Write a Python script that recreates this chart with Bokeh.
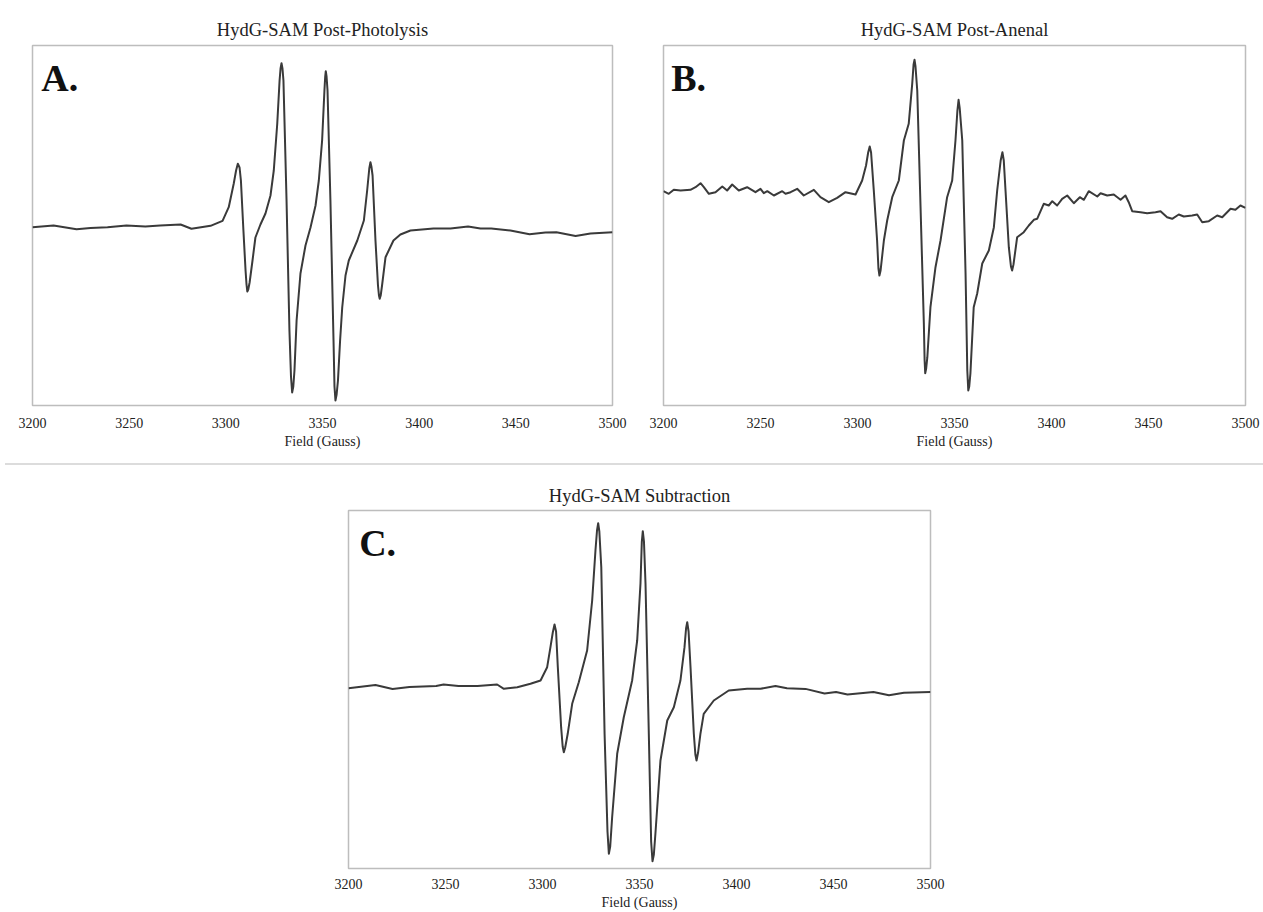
from bokeh.plotting import figure
from bokeh.models import Range1d, FixedTicker, Label, Div, Spacer
from bokeh.layouts import column, row
from bokeh.embed import file_html
from bokeh.resources import INLINE

tick_values = [3200, 3250, 3300, 3350, 3400, 3450, 3500]
titles = ["HydG-SAM Post-Photolysis", "HydG-SAM Post-Anenal", "HydG-SAM Subtraction"]
panel_letters = ["A.", "B.", "C."]
x_label = "Field (Gauss)"

field_a = [3200.0, 3210.9, 3222.8, 3230.0, 3238.8, 3248.6, 3258.4, 3266.0, 3276.6, 3282.2, 3292.1, 3298.3,
           3301.5, 3304.1, 3305.3, 3306.2, 3307.1, 3307.8, 3309.1, 3310.2, 3310.7, 3311.1, 3311.6, 3312.3, 3313.8, 3315.3,
           3317.9, 3320.5, 3323.1, 3324.8, 3326.6, 3327.8, 3328.3, 3328.8, 3329.3, 3329.8, 3331.4, 3332.9, 3333.7, 3334.3, 3334.9, 3335.5, 3336.6, 3338.6,
           3341.2, 3343.8, 3346.4, 3348.1, 3349.8, 3351.0, 3351.4, 3351.7, 3352.1, 3352.6, 3354.1, 3355.7, 3356.2, 3356.7, 3357.3, 3358.0, 3359.1, 3360.2, 3361.9, 3363.6,
           3368.0, 3371.4, 3373.1, 3374.2, 3374.8, 3375.3, 3375.9, 3377.4, 3378.7, 3379.2, 3379.6, 3380.1, 3380.8, 3382.6,
           3386.7, 3390.3, 3395.5, 3407.4, 3416.2, 3425.3, 3431.7, 3437.3, 3447.2, 3457.1, 3465.3, 3471.0, 3480.9, 3488.6, 3500.0]
signal_a = [-0.8, 1.1, -2.7, -1.5, -0.8, 1.1, 0, 1.0, 2.0, -2.3, 0.7, 5.7,
            19.3, 43, 56, 62.7, 59, 46, -4, -44, -58, -65, -63, -56, -34, -11,
            2, 13, 31, 56, 103, 146, 158, 163.3, 158, 146, 26, -104, -150, -166, -160, -144, -94, -47,
            -19, -1, 21, 46, 86, 136, 150, 155.3, 150, 136, 26, -114, -160, -174, -168, -154, -114, -81, -49, -34,
            -14, 6, 36, 58, 64.3, 60, 51, -14, -59, -69, -72.3, -69, -59, -30.7,
            -14, -8, -4, -2, -2, 0, -2, -2, -4, -7.7, -6, -5.8, -9.6, -7, -5.8]

field_b = [3200.0, 3202.7, 3205.3, 3208.8, 3213.9, 3216.5, 3219.1, 3220.8, 3223.4, 3226.8,
           3230.3, 3232.8, 3235.4, 3238.8, 3243.1, 3247.4, 3250.0, 3251.7, 3253.5, 3256.9,
           3261.2, 3262.9, 3265.5, 3268.9, 3272.3, 3277.5, 3280.9, 3285.2, 3289.5, 3293.8, 3299.0,
           3302.4, 3304.4, 3305.5, 3306.3, 3307.0, 3308.4, 3310.1, 3310.8, 3311.3, 3311.9, 3313.6, 3315.3, 3317.9,
           3321.3, 3323.9, 3326.4, 3328.2, 3328.9, 3329.4, 3329.9, 3330.8, 3332.5, 3334.2, 3334.6, 3334.9, 3335.4, 3336.0, 3337.6, 3340.2, 3342.8, 3346.2, 3348.8,
           3350.5, 3351.5, 3352.1, 3352.7, 3354.0, 3355.7, 3356.6, 3357.1, 3357.6, 3358.2, 3359.9, 3361.7, 3364.3, 3367.7, 3370.3,
           3372.0, 3373.8, 3374.7, 3375.4, 3376.3, 3378.0, 3379.1, 3379.7, 3380.4, 3382.3,
           3385.7, 3388.3, 3390.9, 3392.6, 3396.0, 3398.6, 3400.4, 3402.9, 3405.5, 3408.1,
           3411.5, 3414.6, 3416.7, 3419.2, 3423.6, 3425.3, 3428.7, 3432.1, 3435.6, 3438.1,
           3439.8, 3441.6, 3445.9, 3449.3, 3453.6, 3456.2, 3459.6, 3462.2, 3465.6, 3468.2,
           3472.5, 3475.1, 3477.7, 3481.1, 3485.4, 3488.0, 3492.3, 3494.8, 3497.4, 3500.0]
signal_b = [-0.7, -3.3, 0.7, 0, 0.7, 3.3, 7.3, 3.3, -3.3, -1.7,
            4, 0, 6, 0, 3.3, -1.7, 1.7, -2.7, -0.7, -5,
            -0.7, -3.3, -1.7, 1.7, -5, 0.7, -6.7, -11.7, -7.3, -1.7, -4,
            10, 25, 38, 44, 38, 0, -50, -78, -85, -80, -50, -30, -6.7,
            10, 50, 66.7, 106.7, 126, 130.7, 124, 100, -16.7, -133, -170, -182.7, -178, -166.7, -116.7, -76.7, -50, -6.7, 10,
            50, 80, 90.7, 82, 50, -83, -180, -200, -196, -183, -116.7, -103, -73, -60, -36.7,
            0, 30, 38.3, 30, 0, -56.7, -76, -80, -74, -46.7,
            -41.7, -35, -29.3, -28.3, -13.3, -15, -10.7, -15, -8.3, -5,
            -12.7, -6.7, -9.3, -0.7, -6, -2.7, -5, -4, -9.3, -5,
            -11.7, -20.7, -21.7, -22.7, -21.7, -20.7, -26.7, -28.3, -24, -26,
            -25, -24, -31.7, -30.7, -25, -26.7, -18.3, -19.3, -15, -17.3]

field_c = [3200.0, 3213.9, 3222.7, 3231.4, 3245.2, 3249.0, 3256.7, 3266.5, 3276.6, 3280.1, 3287.0, 3293.8, 3299.0, 3302.4,
           3304.1, 3305.3, 3306.2, 3307.0, 3307.9, 3309.6, 3310.4, 3311.0, 3311.7, 3313.0, 3315.3, 3318.7, 3323.0,
           3325.6, 3327.3, 3328.1, 3328.7, 3329.3, 3330.3, 3332.0, 3333.5, 3334.2, 3334.9, 3335.9, 3338.5, 3341.9, 3346.2, 3348.8,
           3350.5, 3351.2, 3351.7, 3352.3, 3353.1, 3354.8, 3356.0, 3356.7, 3357.4, 3358.2, 3360.8, 3364.3, 3367.7, 3371.1,
           3373.2, 3374.0, 3374.6, 3375.3, 3376.3, 3378.0, 3378.8, 3379.4, 3380.2, 3381.4, 3383.1, 3388.3,
           3396.0, 3405.5, 3412.4, 3420.1, 3426.0, 3435.6, 3445.4, 3451.3, 3457.2, 3470.6, 3478.6, 3486.3, 3500.0]
signal_c = [-1.7, 1.4, -2.4, -0.5, 0.6, 2.1, 0.6, 0.6, 2, -2.3, -0.7, 2.7, 6, 19.3,
            39.3, 54, 62, 55, 19.3, -40.7, -60, -65.7, -61, -47.3, -17.3, 4.3, 36,
            86, 136, 156, 163.3, 155, 119.3, -47.3, -145, -167.3, -160, -130.7, -67.3, -30.7, 6, 46,
            102.7, 145, 155.3, 145, 102.7, -47.3, -155, -174.7, -168, -147.3, -74, -34, -20.7, 6,
            39.3, 58, 64.3, 55, 19.3, -47.3, -68, -74, -66, -47.3, -27.3, -14,
            -4, -2.3, -2.3, 0.6, -1.7, -2.4, -7, -5.4, -8, -5.4, -8.8, -6.2, -5.4]

SERIF = "Liberation Serif"


def make_panel(title, letter, xs, ys, ylo, yhi, width, height,
               bl, br, bt, bb, letter_x, letter_y, label_standoff, title_standoff):
    p = figure(width=width, height=height, title=title,
               x_range=Range1d(3200, 3500), y_range=Range1d(ylo, yhi),
               output_backend="svg", toolbar_location=None,
               y_axis_location=None,
               min_border_left=bl, min_border_right=br,
               min_border_top=bt, min_border_bottom=bb)
    p.title.align = "center"
    p.title.text_font = SERIF
    p.title.text_font_size = "18.5px"
    p.title.text_font_style = "normal"
    p.title.text_color = "#222222"
    p.title.standoff = title_standoff
    p.grid.visible = False
    p.outline_line_color = "#bdbdbd"
    p.outline_line_width = 1.5
    p.background_fill_color = "white"
    p.border_fill_color = "white"
    ax = p.xaxis[0]
    ax.ticker = FixedTicker(ticks=tick_values)
    ax.major_tick_out = 0
    ax.major_tick_in = 0
    ax.minor_tick_out = 0
    ax.minor_tick_in = 0
    ax.axis_line_color = None
    ax.major_label_standoff = label_standoff
    ax.major_label_text_font = SERIF
    ax.major_label_text_font_size = "14px"
    ax.major_label_text_color = "#222222"
    ax.axis_label = x_label
    ax.axis_label_text_font = SERIF
    ax.axis_label_text_font_size = "14px"
    ax.axis_label_text_font_style = "normal"
    ax.axis_label_text_color = "#222222"
    ax.axis_label_standoff = 3
    p.line(xs, ys, line_color="#3a3a3a", line_width=2, line_join="round")
    p.add_layout(Label(x=letter_x, y=letter_y, text=letter, text_font=SERIF,
                       text_font_style="bold", text_font_size="38px",
                       text_color="#111111", text_baseline="top", text_align="left"))
    return p


pa = make_panel(titles[0], panel_letters[0], field_a, signal_a, -179, 181,
                640, 460, 32, 28, 45, 55, 3204.5, 170, 12, 11)
pb = make_panel(titles[1], panel_letters[1], field_b, signal_b, -215, 145,
                623, 460, 23, 18, 45, 55, 3204.0, 134, 12, 11)
pc = make_panel(titles[2], panel_letters[2], field_c, signal_c, -182, 176,
                632, 444, 32, 18, 42, 44, 3205.5, 165, 10, 9)

sep = Div(text="", width=1258, height=2, margin=(3, 0, 3, 5),
          styles={"background-color": "#dcdcdc"})

layout = column(row(pa, pb), sep, row(Spacer(width=316, height=444), pc))

open("out.html", "w").write(file_html(layout, INLINE))
